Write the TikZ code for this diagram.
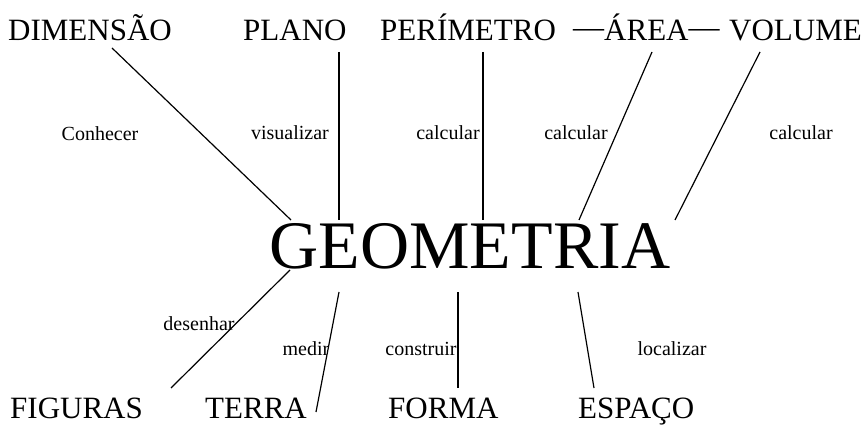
\documentclass[tikz,border=0pt]{standalone}
\usepackage{fontspec}
\setmainfont{Liberation Serif}
\newfontfamily\tnr{Liberation Serif}
\begin{document}
\begin{tikzpicture}[x=1pt,y=-1pt,
  word/.style={inner sep=0pt,anchor=base west,font=\tnr\fontsize{31}{31}\selectfont},
  lbl/.style={inner sep=0pt,anchor=base,font=\tnr\fontsize{20}{20}\selectfont},
  conn/.style={line width=1.2pt}]
\useasboundingbox (0,0) rectangle (867,430);
% top words
\node[word] (dim) at (8,41) {DIMENSÃO};
\node[word] (plano) at (243,41) {PLANO};
\node[word] (peri) at (380,41) {PERÍMETRO};
\node[word] (area) at (573,41) {\raisebox{0.1em}{—}ÁREA\raisebox{0.1em}{—}};
\node[word,anchor=base east] (vol) at (862,41) {VOLUME};
% centre
\node[inner sep=0pt,anchor=base,font=\tnr\fontsize{68}{68}\selectfont] (geo) at (470,269) {GEOMETRIA};
% bottom words
\node[word] (fig) at (10,418) {FIGURAS};
\node[word] (terra) at (205,418) {TERRA};
\node[word] (forma) at (388,418) {FORMA};
\node[word] (esp) at (578,418) {ESPAÇO};
% labels
\node[lbl] (l1) at (100,141) {Conhecer};
\node[lbl] (l2) at (290,140) {visualizar};
\node[lbl] (l3) at (448,140) {calcular};
\node[lbl] (l4) at (576,140) {calcular};
\node[lbl] (l5) at (801,140) {calcular};
\node[lbl] (l6) at (199,330) {desenhar};
\node[lbl] (l7) at (306,355) {medir};
\node[lbl] (l8) at (421,355) {construir};
\node[lbl] (l9) at (672,355) {localizar};
% connector endpoints
\coordinate (a1) at (112,48);  \coordinate (b1) at (291,220);
\coordinate (a2) at (339,52);  \coordinate (b2) at (339,220);
\coordinate (a3) at (483,52);  \coordinate (b3) at (483,220);
\coordinate (a4) at (652,52);  \coordinate (b4) at (579,220);
\coordinate (a5) at (760,52);  \coordinate (b5) at (675,220);
\coordinate (a6) at (290,270); \coordinate (b6) at (171,388);
\coordinate (a7) at (339,292); \coordinate (b7) at (316,412);
\coordinate (a8) at (458,292); \coordinate (b8) at (458,388);
\coordinate (a9) at (578,292); \coordinate (b9) at (594,388);
\foreach \i in {1,...,9} {\draw[conn] (a\i) -- (b\i);}
\end{tikzpicture}
\end{document}
